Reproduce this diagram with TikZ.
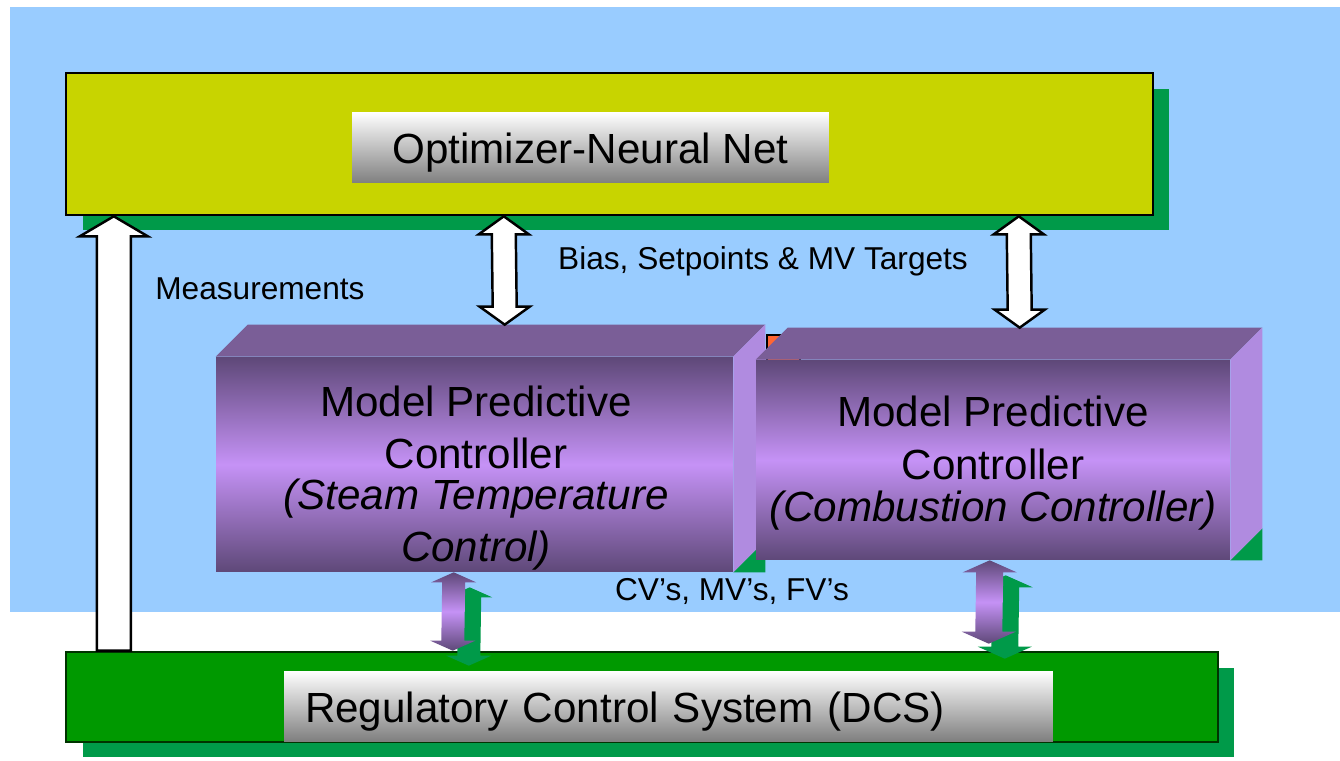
\documentclass[tikz,border=0pt]{standalone}
\usepackage{fontspec}
\setmainfont{Liberation Sans}
\usetikzlibrary{calc,shadows}

\definecolor{skyblue}{HTML}{99CCFF}
\definecolor{optgreen}{HTML}{C8D400}
\definecolor{shadowgreen}{HTML}{009A49}
\definecolor{dcsgreen}{HTML}{009900}
\definecolor{dcsedge}{HTML}{003300}
\definecolor{mpcdark}{HTML}{5E4878}
\definecolor{mpclight}{HTML}{C592F6}
\definecolor{mpctop}{HTML}{7A5E97}
\definecolor{mpcside}{HTML}{B08BE0}
\definecolor{tagorange}{HTML}{FF6633}

\tikzstyle{panel} = [rectangle, inner sep=0pt, general shadow={fill=shadowgreen, shadow xshift=0.33cm, shadow yshift=-0.31cm}]
\tikzstyle{caption} = [rectangle, inner sep=0pt, top color=white, bottom color=black!50, font=\fontsize{24}{29}\selectfont]
\tikzstyle{front} = [rectangle, inner sep=0pt, top color=mpcdark, bottom color=mpcdark, middle color=mpclight]
\tikzstyle{big} = [align=center, inner sep=0pt]
\tikzstyle{small} = [font=\fontsize{18}{22}\selectfont]
\tikzstyle{fat} = [fill=white, draw=black, line width=1.4pt, line join=miter]
\tikzstyle{purple} = [top color=mpcdark, bottom color=mpcdark, middle color=mpclight]
\tikzstyle{greenish} = [fill=shadowgreen]

% block arrows: style, top tip, bottom tip, half shaft, half head, head length
\newcommand{\blockud}[6]{%
  \path[#1] (#2) -- ($(#2)+(#5,#6)$) -- ($(#2)+(#4,#6)$) -- ($(#3)+(#4,-#6)$)
    -- ($(#3)+(#5,-#6)$) -- (#3) -- ($(#3)+(-#5,-#6)$) -- ($(#3)+(-#4,-#6)$)
    -- ($(#2)+(-#4,#6)$) -- ($(#2)+(-#5,#6)$) -- cycle;}
\newcommand{\blockup}[6]{%
  \path[#1] (#2) -- ($(#2)+(#5,#6)$) -- ($(#2)+(#4,#6)$) -- ($(#3)+(#4,0)$)
    -- ($(#3)+(-#4,0)$) -- ($(#2)+(-#4,#6)$) -- ($(#2)+(-#5,#6)$) -- cycle;}
% drop a caption a little below the middle of its box
\newcommand{\low}[1]{\raisebox{-3pt}[\height][\depth]{#1}}

\begin{document}
\begin{tikzpicture}[x=0.02cm, y=-0.02cm]
\useasboundingbox (0,0) rectangle (1340,761);
\fill[white] (0,0) rectangle (1340,761);
\fill[skyblue] (10,7) rectangle (1340,612);

\node[panel, fill=optgreen, draw=black, line width=1.5pt, minimum width=21.74cm, minimum height=2.84cm] (opt) at (609.5,144) {};
\node[caption, minimum width=9.54cm, minimum height=1.42cm] (optlbl) at (590.5,147.5) {\low{Optimizer-Neural Net}\hspace{7pt}};

\node[panel, fill=dcsgreen, draw=dcsedge, line width=1.5pt, minimum width=23.04cm, minimum height=1.8cm] (dcs) at (642,697) {};
\node[caption, text width=14.54cm, inner xsep=0.42cm, minimum height=1.4cm, align=left] (dcslbl) at (668.5,706) {\low{Regulatory Control System (DCS)}};

% steam temperature MPC
\node[front, minimum width=10.34cm, minimum height=4.3cm] (mpcL) at (474.5,464.5) {};
\fill[shadowgreen] (mpcL.south east) -- ++(32,-32) -- ++(0,32) -- cycle;
\fill[mpctop] (mpcL.north west) -- ++(32,-32) -- ($(mpcL.north east)+(32,-32)$) -- (mpcL.north east) -- cycle;
\fill[mpcside] (mpcL.north east) -- ++(32,-32) -- ($(mpcL.south east)+(32,-32)$) -- (mpcL.south east) -- cycle;
\node[big, font=\fontsize{24}{29.5}\selectfont] (mpcLtxt) at (476,478) {Model Predictive\\Controller\\[-6pt]\textit{(Steam Temperature}\\\textit{Control)}};

\draw[fill=tagorange, line width=0.8pt] (767,335) rectangle (800,368);

% combustion MPC
\node[front, minimum width=9.48cm, minimum height=4.0cm] (mpcR) at (993,460) {};
\fill[shadowgreen] (mpcR.south east) -- ++(32,-32) -- ++(0,32) -- cycle;
\fill[mpctop] (mpcR.north west) -- ++(32,-32) -- ($(mpcR.north east)+(32,-32)$) -- (mpcR.north east) -- cycle;
\fill[mpcside] (mpcR.north east) -- ++(32,-32) -- ($(mpcR.south east)+(32,-32)$) -- (mpcR.south east) -- cycle;
\node[big, font=\fontsize{24}{30}\selectfont] (mpcRtxt) at (993,463) {Model Predictive\\Controller\\[-6pt]\textit{(Combustion Controller)}};

\node[small] (biaslbl) at (763,261) {Bias, Setpoints \& MV Targets};
\node[small, anchor=west, inner sep=0pt] (measlbl) at (155,289) {Measurements};
\node[small] (cvlbl) at (732,591) {CV’s, MV’s, FV’s};

\coordinate (meas-t) at ($(opt.south west)+(49,0)$);
\coordinate (meas-b) at ($(dcs.north west)+(49,0)$);
\coordinate (bias-lt) at ($(opt.south west)+(439,0)$);
\coordinate (bias-lb) at ($(mpcL.north west)+(289,-32)$);
\coordinate (bias-rt) at ($(opt.south west)+(954,0)$);
\coordinate (bias-rb) at ($(mpcR.north west)+(264,-32)$);
\coordinate (pl-t) at ($(mpcL.south west)+(238,0)$);
\coordinate (pl-b) at ($(dcs.north west)+(388,0)$);
\coordinate (pr-t) at ($(mpcR.south west)+(234,0)$);
\coordinate (pr-b) at ($(dcs.north west)+(924,-7)$);
\coordinate (pl-ts) at ($(pl-t)+(16,15)$);
\coordinate (pl-bs) at ($(pl-b)+(16,15)$);
\coordinate (pr-ts) at ($(pr-t)+(16,15)$);
\coordinate (pr-bs) at ($(pr-b)+(16,15)$);

\blockup{fat}{meas-t}{meas-b}{17}{34}{20}
\blockud{fat}{bias-lt}{bias-lb}{12}{25}{18}
\blockud{fat}{bias-rt}{bias-rb}{12}{25}{18}

\blockud{greenish}{pl-ts}{pl-bs}{11.5}{22.5}{10}
\blockud{purple}{pl-t}{pl-b}{11.5}{22.5}{10}
\blockud{greenish}{pr-ts}{pr-bs}{13.5}{27}{12}
\blockud{purple}{pr-t}{pr-b}{13.5}{27}{12}
\end{tikzpicture}
\end{document}
